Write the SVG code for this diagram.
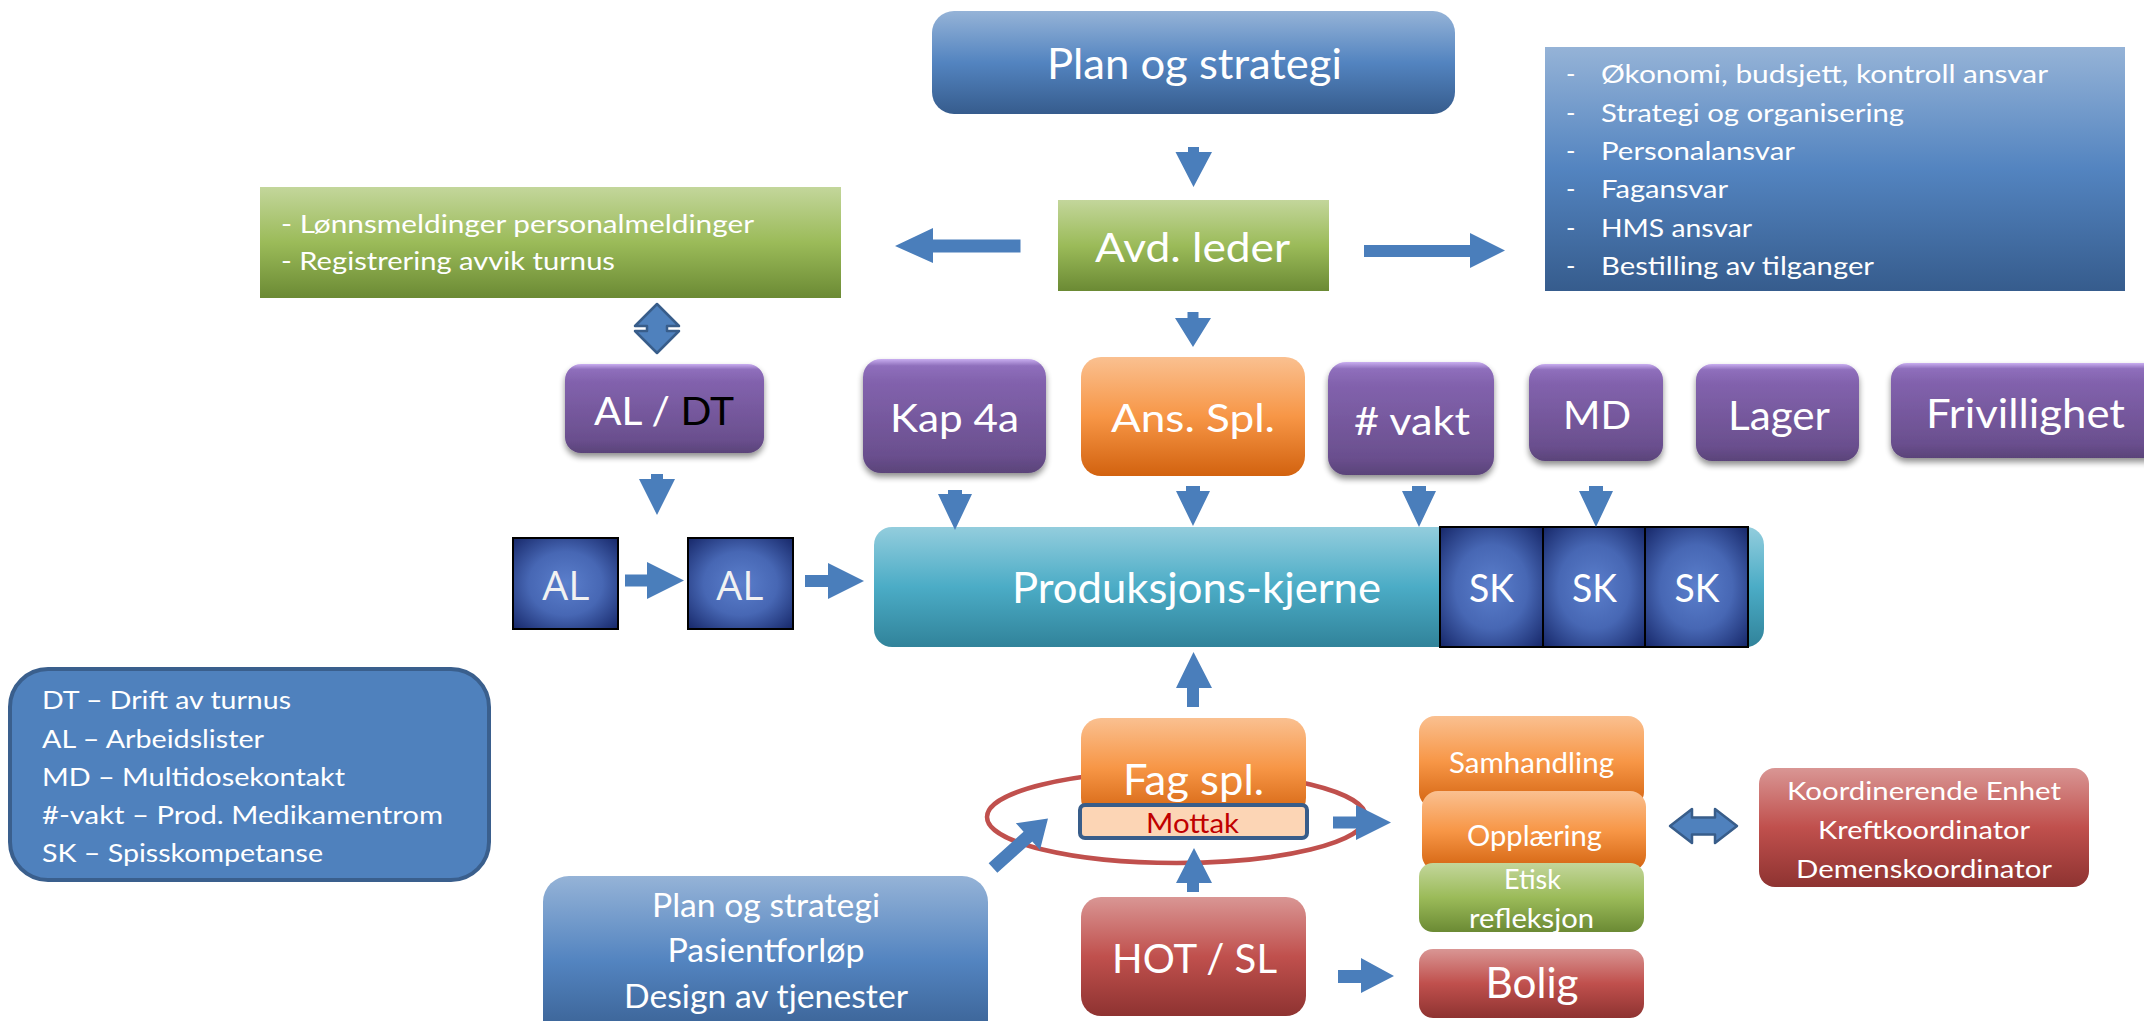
<svg xmlns="http://www.w3.org/2000/svg" width="2144" height="1021" viewBox="0 0 2144 1021">
<defs>
<linearGradient id="gBlue" x1="0" y1="0" x2="0" y2="1"><stop offset="0" stop-color="#95b3d7"/><stop offset="0.5" stop-color="#5384c0"/><stop offset="1" stop-color="#365c8d"/></linearGradient>
<linearGradient id="gGreen" x1="0" y1="0" x2="0" y2="1"><stop offset="0" stop-color="#c3d69b"/><stop offset="0.5" stop-color="#9bbb59"/><stop offset="1" stop-color="#6b8a34"/></linearGradient>
<linearGradient id="gOrange" x1="0" y1="0" x2="0" y2="1"><stop offset="0" stop-color="#fac090"/><stop offset="0.5" stop-color="#f79646"/><stop offset="1" stop-color="#d2620f"/></linearGradient>
<linearGradient id="gRed" x1="0" y1="0" x2="0" y2="1"><stop offset="0" stop-color="#d99694"/><stop offset="0.5" stop-color="#c0504d"/><stop offset="1" stop-color="#8e3331"/></linearGradient>
<linearGradient id="gTeal" x1="0" y1="0" x2="0" y2="1"><stop offset="0" stop-color="#93cddd"/><stop offset="0.5" stop-color="#4bacc6"/><stop offset="1" stop-color="#31839a"/></linearGradient>
<linearGradient id="gPurple" x1="0" y1="0" x2="0" y2="1"><stop offset="0" stop-color="#c9aef0"/><stop offset="0.06" stop-color="#8f6fbc"/><stop offset="0.2" stop-color="#8262ad"/><stop offset="0.85" stop-color="#6a4f8e"/><stop offset="1" stop-color="#5a4379"/></linearGradient>
<radialGradient id="rNavy" cx="0.5" cy="0.5" r="0.7"><stop offset="0" stop-color="#5b7fcc"/><stop offset="0.5" stop-color="#4767b4"/><stop offset="1" stop-color="#17286a"/></radialGradient>
<filter id="shadow" x="-10%" y="-10%" width="120%" height="130%"><feGaussianBlur in="SourceAlpha" stdDeviation="3"/><feOffset dx="0" dy="4" result="b"/><feComponentTransfer><feFuncA type="linear" slope="0.45"/></feComponentTransfer><feMerge><feMergeNode/><feMergeNode in="SourceGraphic"/></feMerge></filter>
</defs>
<style>
text{font-family:Lato,"Open Sans","Liberation Sans",sans-serif;fill:#ffffff}
.c{text-anchor:middle}
.big{font-size:42px}
.mid{font-size:39px}
.sm{font-size:25px}
.al{font-family:"Open Sans","Liberation Sans",sans-serif;font-size:41px;fill:#f2f2f2}
.purple{fill:url(#gPurple);filter:url(#shadow)}
.navy{fill:url(#rNavy);stroke:#000;stroke-width:2}
.arr{fill:#4a7ebb}
.darr{fill:#4f81bd;stroke:#385d8a;stroke-width:2.5;stroke-linejoin:round}
</style>

<!-- background ellipse behind Fag spl. -->
<g id="cycle"><ellipse cx="1176.5" cy="817" rx="189.5" ry="46" fill="none" stroke="#c0504d" stroke-width="4.5"/></g>

<g id="plan-top"><rect x="932" y="11" width="523" height="103" rx="22" fill="url(#gBlue)"/><text class="c big" x="1194.5" y="79" textLength="295" lengthAdjust="spacingAndGlyphs">Plan og strategi</text></g>

<g id="avd-leder"><rect x="1058" y="200" width="271" height="91" fill="url(#gGreen)"/><text class="c" style="font-size:40px" x="1192.5" y="262" textLength="195" lengthAdjust="spacingAndGlyphs">Avd. leder</text></g>

<g id="ansvar"><rect x="1545" y="47" width="580" height="244" fill="url(#gBlue)"/>
<g style="font-size:25.5px">
<text x="1566" y="83">-</text><text x="1601" y="83" textLength="447" lengthAdjust="spacingAndGlyphs">Økonomi, budsjett, kontroll ansvar</text>
<text x="1566" y="122">-</text><text x="1601" y="122" textLength="303" lengthAdjust="spacingAndGlyphs">Strategi og organisering</text>
<text x="1566" y="160">-</text><text x="1601" y="160" textLength="194" lengthAdjust="spacingAndGlyphs">Personalansvar</text>
<text x="1566" y="198">-</text><text x="1601" y="198" textLength="127" lengthAdjust="spacingAndGlyphs">Fagansvar</text>
<text x="1566" y="237">-</text><text x="1601" y="237" textLength="151" lengthAdjust="spacingAndGlyphs">HMS ansvar</text>
<text x="1566" y="275">-</text><text x="1601" y="275" textLength="273" lengthAdjust="spacingAndGlyphs">Bestilling av tilganger</text>
</g></g>

<g id="lonn"><rect x="260" y="187" width="581" height="111" fill="url(#gGreen)"/>
<text class="sm" x="281" y="233" textLength="473" lengthAdjust="spacingAndGlyphs">- Lønnsmeldinger personalmeldinger</text>
<text class="sm" x="281" y="270" textLength="334" lengthAdjust="spacingAndGlyphs">- Registrering avvik turnus</text></g>

<g id="al-dt"><rect class="purple" x="565" y="364" width="199" height="89" rx="16"/><text class="c mid" x="664" y="425" textLength="140" lengthAdjust="spacingAndGlyphs">AL / <tspan style="fill:#000">DT</tspan></text></g>

<g id="kap4a"><rect class="purple" x="863" y="359" width="183" height="114" rx="18"/><text class="c mid" x="954.5" y="432" textLength="129" lengthAdjust="spacingAndGlyphs">Kap 4a</text></g>

<g id="ans-spl"><rect x="1081" y="357" width="224" height="119" rx="20" fill="url(#gOrange)"/><text class="c mid" x="1193" y="432" textLength="164" lengthAdjust="spacingAndGlyphs">Ans. Spl.</text></g>

<g id="vakt"><rect class="purple" x="1328" y="362" width="166" height="113" rx="18"/><text class="c mid" x="1412" y="435" textLength="116" lengthAdjust="spacingAndGlyphs"># vakt</text></g>

<g id="md"><rect class="purple" x="1529" y="364" width="134" height="97" rx="16"/><text class="c mid" x="1597" y="429" textLength="68" lengthAdjust="spacingAndGlyphs">MD</text></g>

<g id="lager"><rect class="purple" x="1696" y="364" width="163" height="97" rx="16"/><text class="c" style="font-size:41px" x="1779" y="430" textLength="102" lengthAdjust="spacingAndGlyphs">Lager</text></g>

<g id="frivillighet"><rect class="purple" x="1891" y="363" width="275" height="95" rx="16"/><text class="c" style="font-size:41px" x="2025.5" y="428" textLength="199" lengthAdjust="spacingAndGlyphs">Frivillighet</text></g>

<g id="produksjon"><rect x="874" y="527" width="890" height="120" rx="18" fill="url(#gTeal)"/><text class="c big" x="1196.5" y="603" textLength="369" lengthAdjust="spacingAndGlyphs">Produksjons-kjerne</text></g>

<g id="sk1"><rect class="navy" x="1440" y="527" width="103" height="120"/><text class="c mid" x="1491.5" y="602" textLength="45" lengthAdjust="spacingAndGlyphs">SK</text></g>
<g id="sk2"><rect class="navy" x="1543" y="527" width="102" height="120"/><text class="c mid" x="1594.5" y="602" textLength="45" lengthAdjust="spacingAndGlyphs">SK</text></g>
<g id="sk3"><rect class="navy" x="1645" y="527" width="103" height="120"/><text class="c mid" x="1697" y="602" textLength="45" lengthAdjust="spacingAndGlyphs">SK</text></g>

<g id="al1"><rect class="navy" x="513" y="538" width="105" height="91"/><text class="c al" x="566" y="600">AL</text></g>
<g id="al2"><rect class="navy" x="688" y="538" width="105" height="91"/><text class="c al" x="740" y="600">AL</text></g>

<g id="legend"><rect x="10" y="669" width="479" height="211" rx="38" fill="#4f81bd" stroke="#3a5f8d" stroke-width="4"/>
<text class="sm" x="42" y="709" textLength="249" lengthAdjust="spacingAndGlyphs">DT – Drift av turnus</text>
<text class="sm" x="42" y="748" textLength="222" lengthAdjust="spacingAndGlyphs">AL – Arbeidslister</text>
<text class="sm" x="42" y="786" textLength="303" lengthAdjust="spacingAndGlyphs">MD – Multidosekontakt</text>
<text class="sm" x="42" y="824" textLength="401" lengthAdjust="spacingAndGlyphs">#-vakt – Prod. Medikamentrom</text>
<text class="sm" x="42" y="862" textLength="281" lengthAdjust="spacingAndGlyphs">SK – Spisskompetanse</text></g>

<g id="plan-bottom"><rect x="543" y="876" width="445" height="170" rx="26" fill="url(#gBlue)"/>
<text class="c" style="font-size:32px" x="766" y="917" textLength="228" lengthAdjust="spacingAndGlyphs">Plan og strategi</text>
<text class="c" style="font-size:32px" x="766" y="962" textLength="197" lengthAdjust="spacingAndGlyphs">Pasientforløp</text>
<text class="c" style="font-size:32px" x="766" y="1008" textLength="284" lengthAdjust="spacingAndGlyphs">Design av tjenester</text></g>

<g id="fag-spl"><rect x="1081" y="718" width="225" height="100" rx="20" fill="url(#gOrange)"/><text class="c big" x="1193.5" y="795" textLength="141" lengthAdjust="spacingAndGlyphs">Fag spl.</text></g>

<g id="mottak"><rect x="1080" y="805" width="227" height="33" rx="5" fill="#fcd5b5" stroke="#385d8a" stroke-width="4"/><text class="c" style="font-size:27px;fill:#c00000" x="1192.5" y="833" textLength="93" lengthAdjust="spacingAndGlyphs">Mottak</text></g>

<g id="hot-sl"><rect x="1081" y="897" width="225" height="119" rx="20" fill="url(#gRed)"/><text class="c" style="font-size:41px" x="1194.5" y="973" textLength="165" lengthAdjust="spacingAndGlyphs">HOT / SL</text></g>

<g id="samhandling"><rect x="1419" y="716" width="225" height="92" rx="16" fill="url(#gOrange)"/><text class="c" style="font-size:28px" x="1531.5" y="773" textLength="165" lengthAdjust="spacingAndGlyphs">Samhandling</text></g>

<g id="opplaering"><rect x="1422" y="791" width="224" height="80" rx="16" fill="url(#gOrange)"/><text class="c" style="font-size:28px" x="1534.5" y="846" textLength="135" lengthAdjust="spacingAndGlyphs">Opplæring</text></g>

<g id="etisk"><rect x="1419" y="863" width="225" height="69" rx="14" fill="url(#gGreen)"/>
<text class="c" style="font-size:27px" x="1532.5" y="889" textLength="57" lengthAdjust="spacingAndGlyphs">Etisk</text>
<text class="c" style="font-size:27px" x="1531.5" y="928" textLength="125" lengthAdjust="spacingAndGlyphs">refleksjon</text></g>

<g id="bolig"><rect x="1419" y="949" width="225" height="69" rx="14" fill="url(#gRed)"/><text class="c big" x="1532" y="998" textLength="93" lengthAdjust="spacingAndGlyphs">Bolig</text></g>

<g id="koordinerende"><rect x="1759" y="768" width="330" height="119" rx="16" fill="url(#gRed)"/>
<text class="c sm" x="1924" y="800" textLength="274" lengthAdjust="spacingAndGlyphs">Koordinerende Enhet</text>
<text class="c sm" x="1924" y="839" textLength="212" lengthAdjust="spacingAndGlyphs">Kreftkoordinator</text>
<text class="c sm" x="1924" y="878" textLength="256" lengthAdjust="spacingAndGlyphs">Demenskoordinator</text></g>

<g id="connectors">
<polygon class="arr" points="1188,147 1199,147 1199,152 1212,152 1193.5,187 1175.5,152 1188,152"/>
<polygon class="arr" points="1020.5,239.5 933,239.5 933,228 895,246 933,263 933,252.5 1020.5,252.5"/>
<polygon class="arr" points="1364,245 1470,245 1470,233 1505,250.5 1470,268 1470,257 1364,257"/>
<polygon class="arr" points="1187.5,312 1198.5,312 1198.5,318 1211,318 1193,347 1175,318 1187.5,318"/>
<polygon class="darr" points="657,304 679,326 667,326 667,331 679,331 657,353 635,331 647,331 647,326 635,326"/>
<polygon class="arr" points="651,474 663,474 663,479 675,479 657,515 639,479 651,479"/>
<polygon class="arr" points="948,490 962,490 962,494 972,494 955,530 938,494 948,494"/>
<polygon class="arr" points="1186,486 1200,486 1200,491 1210,491 1193,526 1176,491 1186,491"/>
<polygon class="arr" points="1412,486 1426,486 1426,491 1436,491 1419,527 1402,491 1412,491"/>
<polygon class="arr" points="1589,486 1603,486 1603,491 1613,491 1596,527 1579,491 1589,491"/>
<polygon class="arr" points="625,574.5 647,574.5 647,562 684,580.5 647,599 647,586.5 625,586.5"/>
<polygon class="arr" points="805,575 828,575 828,563 864,581 828,599 828,587 805,587"/>
<polygon class="arr" points="1187,707 1199,707 1199,688 1212,688 1193.5,652 1176,688 1187,688"/>
<polygon class="arr" points="1333,816.5 1356,816.5 1356,805 1391,822.5 1356,840 1356,828.5 1333,828.5"/>
<polygon class="arr" points="1187,892 1199,892 1199,883 1212,883 1194,848 1176,883 1187,883"/>
<polygon class="arr" points="1338,970 1361,970 1361,958 1394,976 1361,993 1361,983 1338,983"/>
<polygon class="arr" transform="translate(993,868) rotate(-42)" points="0,-6.5 47,-6.5 47,-18 74,0 47,18 47,6.5 0,6.5"/>
<polygon class="darr" points="1670,826 1692,809 1692,817.5 1715,817.5 1715,809 1737,826 1715,843 1715,834.5 1692,834.5 1692,843"/>
</g>
</svg>
